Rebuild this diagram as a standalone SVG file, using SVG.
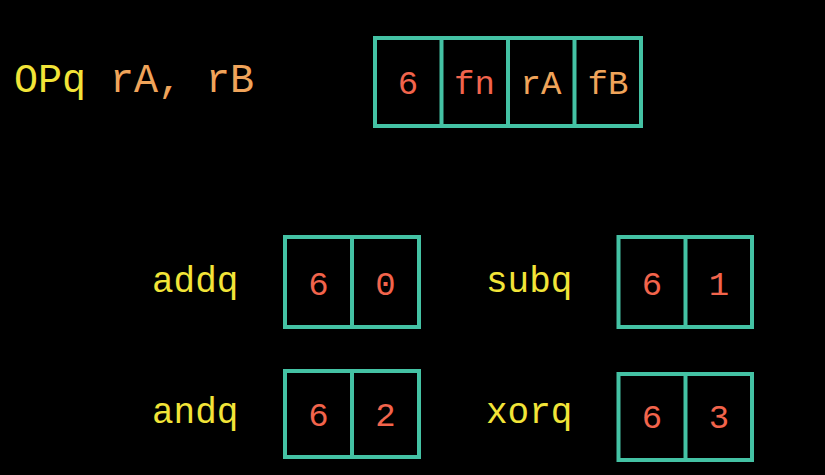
<svg xmlns="http://www.w3.org/2000/svg" width="825" height="475" viewBox="0 0 825 475">
<style>
.box{fill:none;stroke:#44c2a4;stroke-width:4}
.t{font-family:"Liberation Mono","DejaVu Sans Mono",monospace}
.cell{font-size:34px;text-anchor:middle}
.red{fill:#f2644c}
.org{fill:#f0a45a}
.yel{fill:#f2e438}
.lbl{font-size:36px}
</style>
<rect width="825" height="475" fill="#000"/>
<g id="syntax">
<text class="t yel" x="14" y="92" font-size="40">OPq</text>
<text class="t org" x="110" y="92" font-size="40">rA, rB</text>
</g>
<g id="format">
<rect class="box" x="375" y="38" width="266" height="88"/>
<line class="box" x1="441.5" y1="38" x2="441.5" y2="126"/>
<line class="box" x1="508" y1="38" x2="508" y2="126"/>
<line class="box" x1="574.5" y1="38" x2="574.5" y2="126"/>
<text class="t cell red" x="408" y="94">6</text>
<text class="t cell red" x="474.5" y="94">fn</text>
<text class="t cell org" x="541" y="94">rA</text>
<text class="t cell org" x="608" y="94">fB</text>
</g>
<g id="addq">
<text class="t lbl yel" x="152" y="292">addq</text>
<rect class="box" x="285" y="237" width="134" height="90"/>
<line class="box" x1="352" y1="237" x2="352" y2="327"/>
<text class="t cell red" x="318.5" y="295">6</text>
<text class="t cell red" x="385.5" y="295">0</text>
</g>
<g id="subq">
<text class="t lbl yel" x="486" y="292">subq</text>
<rect class="box" x="618.5" y="237" width="133.5" height="90"/>
<line class="box" x1="685.5" y1="237" x2="685.5" y2="327"/>
<text class="t cell red" x="652" y="295">6</text>
<text class="t cell red" x="719" y="295">1</text>
</g>
<g id="andq">
<text class="t lbl yel" x="152" y="423">andq</text>
<rect class="box" x="285" y="371" width="134" height="86"/>
<line class="box" x1="352" y1="371" x2="352" y2="457"/>
<text class="t cell red" x="318.5" y="426">6</text>
<text class="t cell red" x="385.5" y="426">2</text>
</g>
<g id="xorq">
<text class="t lbl yel" x="486" y="423">xorq</text>
<rect class="box" x="618.5" y="374" width="133.5" height="86"/>
<line class="box" x1="685.5" y1="374" x2="685.5" y2="460"/>
<text class="t cell red" x="652" y="428">6</text>
<text class="t cell red" x="719" y="428">3</text>
</g>
<g id="connectors"></g>
</svg>
